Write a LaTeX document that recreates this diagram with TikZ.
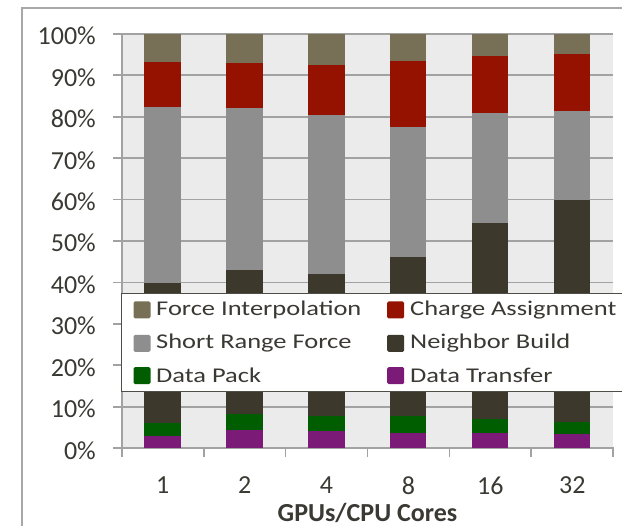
\documentclass[tikz,border=0pt]{standalone}
\usepackage{fontspec}
\setmainfont{Carlito}
\newfontfamily\legendfont[FakeStretch=1.26]{Carlito}
\definecolor{fi}{HTML}{787056}
\definecolor{ca}{HTML}{951200}
\definecolor{srf}{HTML}{8E8E8E}
\definecolor{nb}{HTML}{3D382C}
\definecolor{dp}{HTML}{005E00}
\definecolor{dt}{HTML}{7C1A78}
\definecolor{plotbg}{HTML}{EBEBEB}
\definecolor{grid}{HTML}{A2A2A2}
\definecolor{frame}{HTML}{A8A8A8}
\definecolor{ink}{HTML}{3A3933}
\tikzset{
  gridline/.style={draw=grid, line width=1.8pt},
  ylab/.style={anchor=east, text=ink, font=\fontsize{26}{30}\selectfont, inner sep=0pt},
  xlab/.style={anchor=center, text=ink, font=\fontsize{26}{30}\selectfont, inner sep=0pt},
  axistitle/.style={anchor=base, text=ink, font=\fontsize{26}{30}\selectfont\bfseries, inner sep=0pt},
  legtext/.style={anchor=west, text=ink, font=\legendfont\fontsize{21}{25}\selectfont, inner sep=0pt},
  legkey/.style={rounded corners=1.5pt, minimum width=17pt, minimum height=17pt, inner sep=0pt},
}
\begin{document}
\begin{tikzpicture}[x=1pt, y=-1pt]
  \useasboundingbox (0,0) rectangle (622,526);
  \clip (0,0) rectangle (622,526);
  % outer chart frame (continues past the right and bottom edges)
  \draw[frame, line width=2pt] (21.7,540) -- (21.7,8) -- (640,8);
  % plot area
  \fill[plotbg] (121.7,33.7) rectangle (613.3,448.3);
  % horizontal gridlines with ticks on the left
  \foreach \v in {10,20,...,100}{
    \draw[gridline] (113,{448.3-4.146*\v}) -- (613.3,{448.3-4.146*\v});
  }
  % value axis
  \draw[gridline] (121.7,33.7) -- (121.7,448.3);
  % category axis with ticks between categories
  \draw[gridline] (113,448.3) -- (614,448.3);
  \foreach \k in {0,...,6}{
    \draw[gridline] ({121.7+81.93*\k},448.3) -- ({121.7+81.93*\k},457.5);
  }
  % stacked bars
  \foreach \k/\a/\b/\c/\d/\e in {
      0/3.0/6.1/39.8/82.4/93.1,
      1/4.4/8.3/43.0/82.0/92.9,
      2/4.2/7.9/42.0/80.4/92.4,
      3/3.8/7.9/46.2/77.4/93.4,
      4/3.8/7.1/54.3/80.8/94.5,
      5/3.4/6.4/59.9/81.4/95.2}{
    \pgfmathsetmacro\xl{121.7+81.93*\k+22.5}
    \pgfmathsetmacro\xr{\xl+36.5}
    \fill[dt]  (\xl,448.3) rectangle (\xr,{448.3-4.146*\a});
    \fill[dp]  (\xl,{448.3-4.146*\a}) rectangle (\xr,{448.3-4.146*\b});
    \fill[nb]  (\xl,{448.3-4.146*\b}) rectangle (\xr,{448.3-4.146*\c});
    \fill[srf] (\xl,{448.3-4.146*\c}) rectangle (\xr,{448.3-4.146*\d});
    \fill[ca]  (\xl,{448.3-4.146*\d}) rectangle (\xr,{448.3-4.146*\e});
    \fill[fi]  (\xl,{448.3-4.146*\e}) rectangle (\xr,33.7);
  }
  % value axis labels
  \foreach \v in {0,10,...,100}{
    \node[ylab] (y\v) at (96,{450.5-4.146*\v}) {\v\%};
  }
  % category labels
  \foreach \k/\t in {0/1,1/2,2/4,3/8,4/16,5/32}{
    \node[xlab] (x\k) at ({121.7+81.93*(\k+0.5)},485.5) {\t};
  }
  \node[axistitle] (title) at (367.5,521.5) {GPUs/CPU Cores};
  % legend
  \draw[draw=ink!90, fill=white, line width=1pt] (121.7,294) rectangle (640,391.7);
  \node[legkey, fill=fi]  (k1) at (142,310) {};
  \node[legtext] (l1) at (156,310) {Force Interpolation};
  \node[legkey, fill=ca]  (k2) at (395.7,310) {};
  \node[legtext] (l2) at (410,310) {Charge Assignment};
  \node[legkey, fill=srf] (k3) at (142,343.3) {};
  \node[legtext] (l3) at (156,343.3) {Short Range Force};
  \node[legkey, fill=nb]  (k4) at (395.7,343.3) {};
  \node[legtext] (l4) at (410,343.3) {Neighbor Build};
  \node[legkey, fill=dp]  (k5) at (142,375.7) {};
  \node[legtext] (l5) at (156,375.7) {Data Pack};
  \node[legkey, fill=dt]  (k6) at (395.7,375.7) {};
  \node[legtext] (l6) at (410,375.7) {Data Transfer};
\end{tikzpicture}
\end{document}
